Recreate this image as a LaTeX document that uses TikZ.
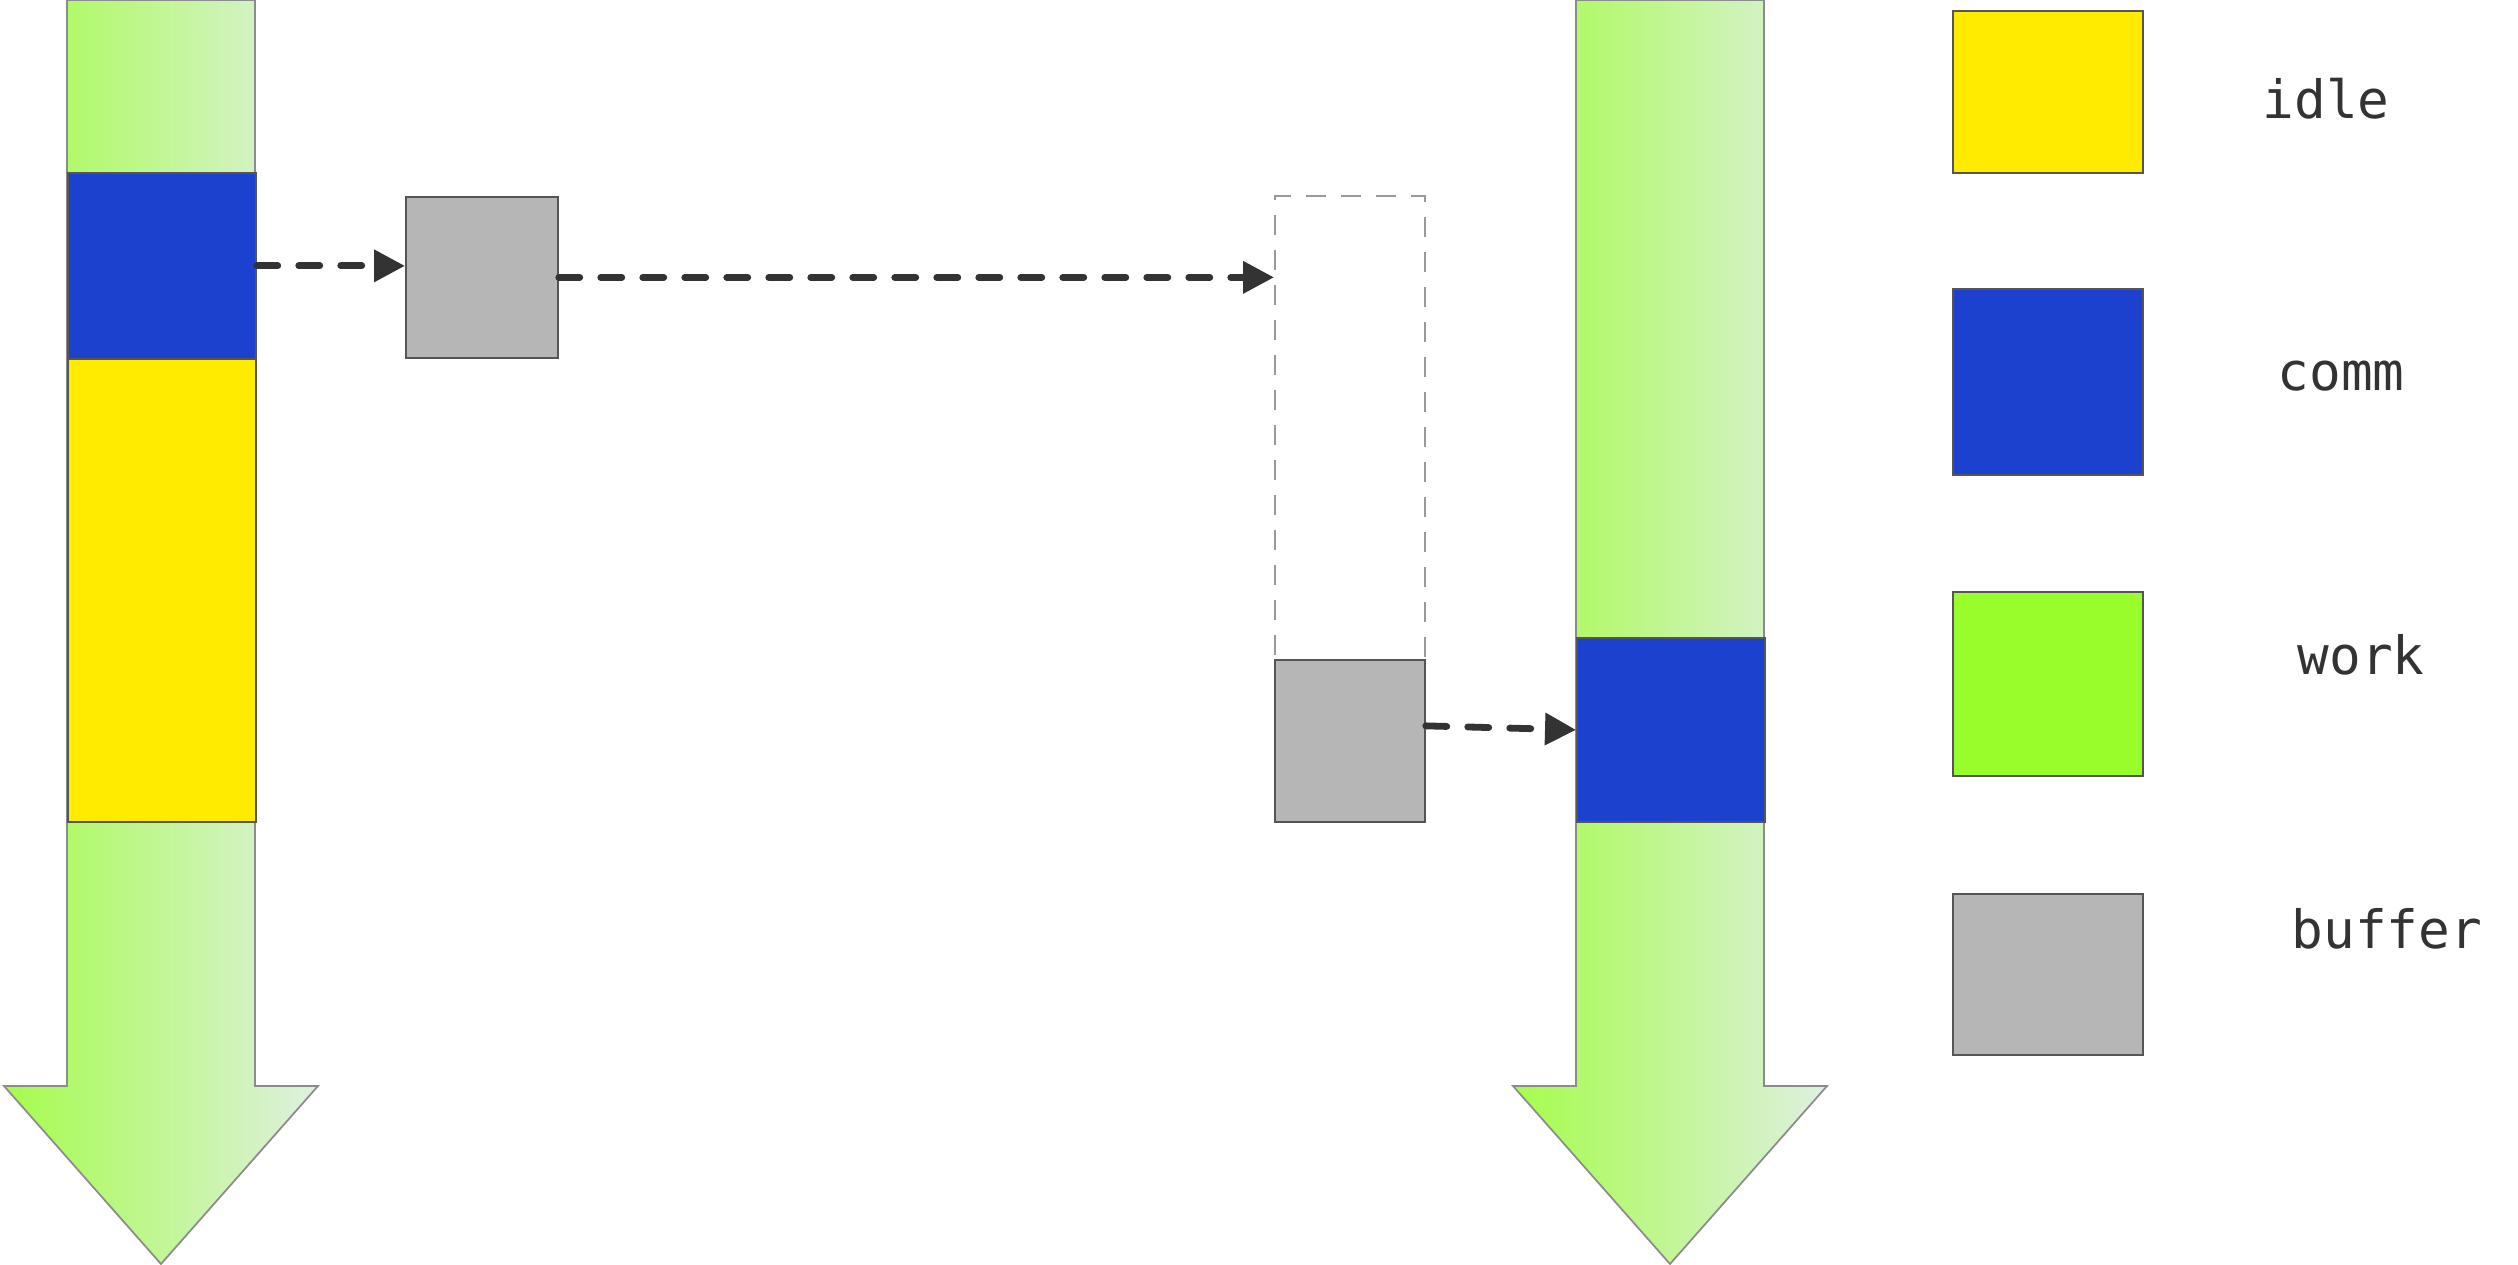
\documentclass[tikz,border=0pt]{standalone}
\usepackage{fontspec}
\newfontfamily\legendfont{DejaVu Sans Mono}
\usetikzlibrary{arrows.meta, calc}
\definecolor{WorkColor}{RGB}{152,253,42}
\definecolor{WorkBright}{RGB}{166,252,76}
\definecolor{WorkLight}{RGB}{222,240,224}
\definecolor{CommColor}{RGB}{29,65,207}
\definecolor{IdleColor}{RGB}{255,235,0}
\definecolor{BufferColor}{RGB}{182,182,182}
\definecolor{EdgeColor}{RGB}{85,85,85}
\definecolor{FlowColor}{RGB}{51,51,51}

\begin{document}
\begin{tikzpicture}[
    segment/.style={draw=EdgeColor, line width=0.5pt, inner sep=0pt, anchor=north west},
    slot/.style={draw=gray!80, line width=0.5pt, dash pattern=on 0.2cm off 0.15cm, inner sep=0pt, anchor=north west},
    legendbox/.style={segment, minimum width=1.90cm},
    legendlabel/.style={font=\legendfont\fontsize{15}{18}\selectfont, text=FlowColor, anchor=base west, inner sep=0pt},
    flow/.style={draw=FlowColor, line width=0.068cm, line cap=round, dash pattern=on 0.21cm off 0.21cm,
        -{Triangle[length=0.31cm, width=0.31cm]}},
]
\useasboundingbox (0,0) rectangle (25.18,12.65);

% Helper for the big timeline arrows (shaft + head), #1 = centre x
\newcommand{\flowarrow}[1]{
    \shade[left color=WorkBright, right color=WorkLight, draw=gray!90, line width=0.5pt]
        (#1-0.94,12.65) -- (#1+0.94,12.65) -- (#1+0.94,1.79) -- (#1+1.57,1.79)
        -- (#1,0.01) -- (#1-1.57,1.79) -- (#1-0.94,1.79) -- cycle;
}

% Left timeline
\flowarrow{1.61}
\node[segment, fill=CommColor, minimum width=1.88cm, minimum height=1.86cm] (lcomm) at (0.67,10.93) {};
\node[segment, fill=IdleColor, minimum width=1.88cm, minimum height=4.63cm] (lidle) at (0.67,9.07) {};

% Right timeline
\flowarrow{16.70}
\node[segment, fill=CommColor, minimum width=1.88cm, minimum height=1.84cm] (rcomm) at (15.76,6.28) {};

% Buffers
\node[segment, fill=BufferColor, minimum width=1.52cm, minimum height=1.61cm] (buf1) at (4.05,10.69) {};
\node[slot, minimum width=1.50cm, minimum height=6.26cm] (slot) at (12.74,10.70) {};
\node[segment, fill=BufferColor, minimum width=1.50cm, minimum height=1.62cm] (buf2) at (12.74,6.06) {};

% Connectors
\draw[flow] (lcomm.east) -- (lcomm.east -| buf1.west);
\draw[flow] (buf1.east) -- (buf1.east -| slot.west);
\draw[flow] ([yshift=0.15cm]buf2.east) -- (rcomm.west);

% Legend
\node[legendbox, fill=IdleColor, minimum height=1.62cm] (keyidle) at (19.52,12.545) {};
\node[legendbox, fill=CommColor, minimum height=1.86cm] (keycomm) at (19.52,9.77) {};
\node[legendbox, fill=WorkColor, minimum height=1.84cm] (keywork) at (19.52,6.74) {};
\node[legendbox, fill=BufferColor, minimum height=1.61cm] (keybuffer) at (19.52,3.72) {};
\node[legendlabel] (labidle) at (22.62,11.46) {idle};
\node[legendlabel] (labcomm) at (22.77,8.74) {comm};
\node[legendlabel] (labwork) at (22.97,5.90) {work};
\node[legendlabel] (labbuffer) at (22.91,3.16) {buffer};

\end{tikzpicture}
\end{document}
